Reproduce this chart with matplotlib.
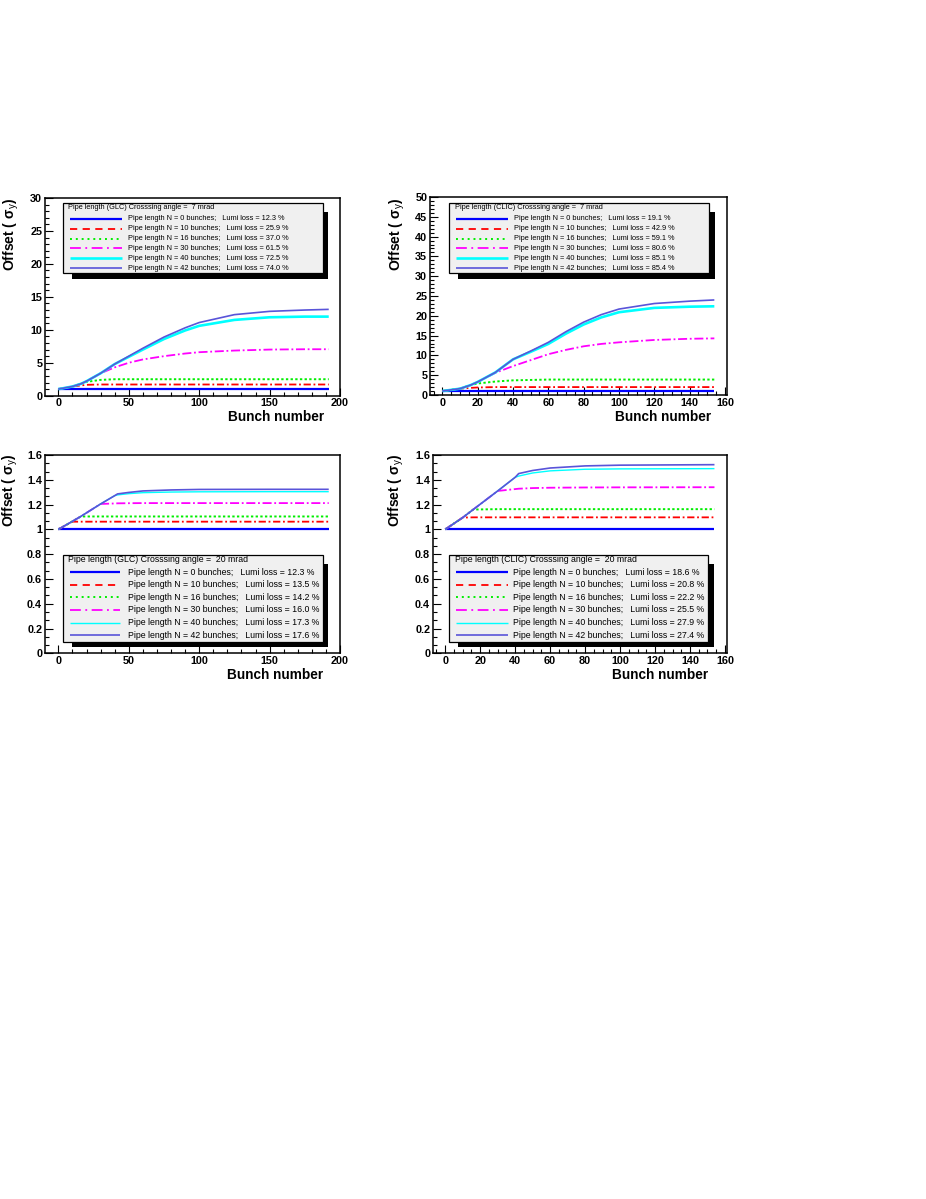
import matplotlib
matplotlib.use("Agg")
import matplotlib.pyplot as plt
from matplotlib.patches import Rectangle
from matplotlib.ticker import MultipleLocator, FuncFormatter

# ---------------- data ----------------
pipe_n = [0, 10, 16, 30, 40, 42]

# GLC, 7 mrad
x_glc7 = [0, 10, 16, 20, 30, 40, 50, 60, 75, 90, 100, 125, 150, 175, 192]
glc7_n0 = [1.0, 1.0, 1.0, 1.0, 1.0, 1.0, 1.0, 1.0, 1.0, 1.0, 1.0, 1.0, 1.0, 1.0, 1.0]
glc7_n10 = [1.0, 1.4, 1.55, 1.65, 1.7, 1.7, 1.7, 1.7, 1.7, 1.7, 1.7, 1.7, 1.7, 1.7, 1.7]
glc7_n16 = [1.0, 1.4, 1.8, 2.1, 2.4, 2.5, 2.5, 2.5, 2.5, 2.5, 2.5, 2.5, 2.5, 2.5, 2.5]
glc7_n30 = [1.0, 1.4, 1.8, 2.2, 3.4, 4.3, 5.0, 5.5, 6.0, 6.4, 6.6, 6.85, 7.0, 7.05, 7.05]
glc7_n40 = [1.0, 1.4, 1.8, 2.2, 3.4, 4.8, 5.9, 7.0, 8.6, 9.9, 10.6, 11.5, 11.9, 12.0, 12.0]
glc7_n42 = [1.0, 1.4, 1.8, 2.2, 3.4, 4.8, 6.0, 7.2, 8.9, 10.3, 11.1, 12.3, 12.8, 13.0, 13.1]
glc7_loss = [12.3, 25.9, 37.0, 61.5, 72.5, 74.0]

# CLIC, 7 mrad
x_clic7 = [0, 10, 16, 20, 30, 40, 50, 60, 70, 80, 90, 100, 120, 140, 154]
clic7_n0 = [1.0, 1.0, 1.0, 1.0, 1.0, 1.0, 1.0, 1.0, 1.0, 1.0, 1.0, 1.0, 1.0, 1.0, 1.0]
clic7_n10 = [1.0, 1.6, 1.8, 1.9, 2.0, 2.0, 2.0, 2.0, 2.0, 2.0, 2.0, 2.0, 2.0, 2.0, 2.0]
clic7_n16 = [1.0, 1.6, 2.5, 2.9, 3.4, 3.7, 3.8, 3.9, 3.9, 3.9, 3.9, 3.9, 3.9, 3.9, 3.9]
clic7_n30 = [1.0, 1.6, 2.5, 3.3, 5.6, 7.3, 8.8, 10.3, 11.4, 12.3, 12.9, 13.3, 13.9, 14.2, 14.3]
clic7_n40 = [1.0, 1.6, 2.5, 3.3, 5.7, 9.0, 10.9, 12.9, 15.5, 17.8, 19.6, 20.9, 22.0, 22.3, 22.4]
clic7_n42 = [1.0, 1.6, 2.5, 3.3, 5.7, 9.0, 11.1, 13.3, 16.0, 18.4, 20.3, 21.7, 23.1, 23.7, 24.0]
clic7_loss = [19.1, 42.9, 59.1, 80.6, 85.1, 85.4]

# GLC, 20 mrad
x_glc20 = [0, 10, 16, 30, 40, 42, 50, 60, 80, 100, 150, 192]
glc20_n0 = [1.0, 1.0, 1.0, 1.0, 1.0, 1.0, 1.0, 1.0, 1.0, 1.0, 1.0, 1.0]
glc20_n10 = [1.0, 1.062, 1.062, 1.062, 1.062, 1.062, 1.062, 1.062, 1.062, 1.062, 1.062, 1.062]
glc20_n16 = [1.0, 1.065, 1.104, 1.104, 1.104, 1.104, 1.104, 1.104, 1.104, 1.104, 1.104, 1.104]
glc20_n30 = [1.0, 1.065, 1.105, 1.205, 1.209, 1.21, 1.211, 1.212, 1.212, 1.212, 1.212, 1.212]
glc20_n40 = [1.0, 1.065, 1.105, 1.205, 1.272, 1.278, 1.288, 1.296, 1.301, 1.303, 1.304, 1.304]
glc20_n42 = [1.0, 1.065, 1.105, 1.205, 1.272, 1.286, 1.298, 1.31, 1.318, 1.322, 1.323, 1.323]
glc20_loss = [12.3, 13.5, 14.2, 16.0, 17.3, 17.6]

# CLIC, 20 mrad
x_clic20 = [0, 10, 16, 30, 40, 42, 50, 60, 80, 100, 154]
clic20_n0 = [1.0, 1.0, 1.0, 1.0, 1.0, 1.0, 1.0, 1.0, 1.0, 1.0, 1.0]
clic20_n10 = [1.0, 1.095, 1.097, 1.097, 1.097, 1.097, 1.097, 1.097, 1.097, 1.097, 1.097]
clic20_n16 = [1.0, 1.095, 1.16, 1.163, 1.163, 1.163, 1.163, 1.163, 1.163, 1.163, 1.163]
clic20_n30 = [1.0, 1.095, 1.16, 1.31, 1.325, 1.328, 1.333, 1.336, 1.338, 1.339, 1.34]
clic20_n40 = [1.0, 1.095, 1.16, 1.31, 1.42, 1.43, 1.455, 1.472, 1.485, 1.488, 1.49]
clic20_n42 = [1.0, 1.095, 1.16, 1.31, 1.42, 1.45, 1.475, 1.495, 1.512, 1.518, 1.522]
clic20_loss = [18.6, 20.8, 22.2, 25.5, 27.9, 27.4]

titles = ["Pipe length (GLC) Crosssing angle =  7 mrad",
          "Pipe length (CLIC) Crosssing angle =  7 mrad",
          "Pipe length (GLC) Crosssing angle =  20 mrad",
          "Pipe length (CLIC) Crosssing angle =  20 mrad"]

# ---------------- style ----------------
W, H = 926, 1199
plt.rcParams['font.family'] = ['Liberation Sans', 'DejaVu Sans']
plt.rcParams['mathtext.fontset'] = 'custom'
plt.rcParams['mathtext.rm'] = 'Liberation Sans'
plt.rcParams['mathtext.it'] = 'Liberation Sans:italic'
plt.rcParams['mathtext.bf'] = 'Liberation Sans:bold'

colors = ['#0000ff', '#ff0000', '#00ee00', '#ff00ff', '#00ffff', '#5954d9']
leg_ls = ['-', (0, (4, 3)), (0, (1, 2)), (0, (6, 2.5, 1, 2.5)), '-', '-']
data_ls = ['-', (0, (4, 1.5, 1, 1.5)), (0, (1.2, 1.2)), (0, (5, 1.5, 1, 1.5)), '-', '-']
lw_top = [1.6, 1.3, 1.4, 1.3, 1.9, 1.2]
lw_bot = [1.6, 1.3, 1.4, 1.3, 1.0, 1.2]

fig = plt.figure(figsize=(W / 100, H / 100), dpi=100)


def frac(l, t, r, b):
    return [l / W, 1 - b / H, (r - l) / W, (b - t) / H]


panels = [
    dict(box=(45, 198, 340, 395.7), x=x_glc7,
         ys=[glc7_n0, glc7_n10, glc7_n16, glc7_n30, glc7_n40, glc7_n42],
         loss=glc7_loss, title=titles[0], xlim=(-9.5, 200), ylim=(0, 30),
         xt=(50, 10), yt=(5, 1), lw=lw_top,
         ylab=(11, 198), xlab=(324, 417),
         leg=(62.7, 203.3, 322.7, 273.3), legfs=5.35, rowy0=219, rowdy=9.8,
         hx=(70, 121.7), tx=128.3, titx=68.3, tity=207.3),
    dict(box=(430, 197, 726.7, 395), x=x_clic7,
         ys=[clic7_n0, clic7_n10, clic7_n16, clic7_n30, clic7_n40, clic7_n42],
         loss=clic7_loss, title=titles[1], xlim=(-7, 161), ylim=(0, 50),
         xt=(20, 5), yt=(5, 1), lw=lw_top,
         ylab=(397, 198), xlab=(711, 417),
         leg=(449, 203.3, 709.3, 273.3), legfs=5.35, rowy0=219, rowdy=9.8,
         hx=(456, 507.7), tx=514, titx=455, tity=207.3),
    dict(box=(45, 455, 340, 653.3), x=x_glc20,
         ys=[glc20_n0, glc20_n10, glc20_n16, glc20_n30, glc20_n40, glc20_n42],
         loss=glc20_loss, title=titles[2], xlim=(-9.5, 200), ylim=(0, 1.6),
         xt=(50, 10), yt=(0.2, 0.2 / 3), lw=lw_bot,
         ylab=(10, 454), xlab=(323, 675),
         leg=(62.7, 555, 322.7, 641.7), legfs=6.3, rowy0=572.3, rowdy=12.55,
         hx=(70, 120), tx=127.7, titx=68.3, tity=560),
    dict(box=(433, 455, 726.7, 653.3), x=x_clic20,
         ys=[clic20_n0, clic20_n10, clic20_n16, clic20_n30, clic20_n40, clic20_n42],
         loss=clic20_loss, title=titles[3], xlim=(-7, 161), ylim=(0, 1.6),
         xt=(20, 5), yt=(0.2, 0.2 / 3), lw=lw_bot,
         ylab=(396, 454), xlab=(708, 675),
         leg=(449, 555, 708, 641.7), legfs=6.3, rowy0=572.3, rowdy=12.55,
         hx=(456, 507.7), tx=513.3, titx=455, tity=560),
]

fmt = FuncFormatter(lambda v, p: ('%g' % round(v, 6)))

for P in panels:
    ax = fig.add_axes(frac(*P['box']))
    for i, y in enumerate(P['ys']):
        ax.plot(P['x'], y, color=colors[i], linestyle=data_ls[i], lw=P['lw'][i],
                solid_capstyle='butt', dash_capstyle='butt')
    ax.set_xlim(*P['xlim'])
    ax.set_ylim(*P['ylim'])
    ax.xaxis.set_major_locator(MultipleLocator(P['xt'][0]))
    ax.xaxis.set_minor_locator(MultipleLocator(P['xt'][1]))
    ax.yaxis.set_major_locator(MultipleLocator(P['yt'][0]))
    ax.yaxis.set_minor_locator(MultipleLocator(P['yt'][1]))
    ax.xaxis.set_major_formatter(fmt)
    ax.yaxis.set_major_formatter(fmt)
    ax.tick_params(which='both', direction='in', top=False, right=False, width=0.8)
    ax.tick_params(which='major', length=5.8, labelsize=7.8, pad=2)
    ax.tick_params(which='minor', length=2.9)
    for lab in ax.get_xticklabels() + ax.get_yticklabels():
        lab.set_fontweight('bold')
    for s in ax.spines.values():
        s.set_linewidth(1.1)
    # axis titles
    fig.text(P['ylab'][0] / W, 1 - P['ylab'][1] / H, r"Offset ( σ$_{\mathrm{y}}$)",
             rotation=90, ha='center', va='top', fontsize=10, fontweight='bold')
    fig.text(P['xlab'][0] / W, 1 - P['xlab'][1] / H, "Bunch number",
             ha='right', va='center', fontsize=9.8, fontweight='bold')

# legends drawn in an overlay with pixel coordinates
ov = fig.add_axes([0, 0, 1, 1], zorder=20)
ov.set_xlim(0, W)
ov.set_ylim(H, 0)
ov.axis('off')
for P in panels:
    l, t, r, b = P['leg']
    ov.add_patch(Rectangle((l + 9, t + 8.5), (r + 5.7) - (l + 9), (b + 5.3) - (t + 8.5),
                           facecolor='black', edgecolor='none', zorder=1))
    ov.add_patch(Rectangle((l, t), r - l, b - t, facecolor='#f0f0f0',
                           edgecolor='black', lw=0.9, zorder=2))
    ov.text(P['titx'], P['tity'], P['title'], fontsize=P['legfs'], ha='left',
            va='center', zorder=3)
    for i, (n, loss) in enumerate(zip(pipe_n, P['loss'])):
        yy = P['rowy0'] + i * P['rowdy']
        ov.plot(P['hx'], [yy, yy], color=colors[i], linestyle=leg_ls[i],
                lw=P['lw'][i], zorder=3, solid_capstyle='butt', dash_capstyle='butt')
        ov.text(P['tx'], yy, "Pipe length N = %d bunches;   Lumi loss = %.1f %%" % (n, loss),
                fontsize=P['legfs'], ha='left', va='center', zorder=3)

fig.savefig("out.png", dpi=100)
